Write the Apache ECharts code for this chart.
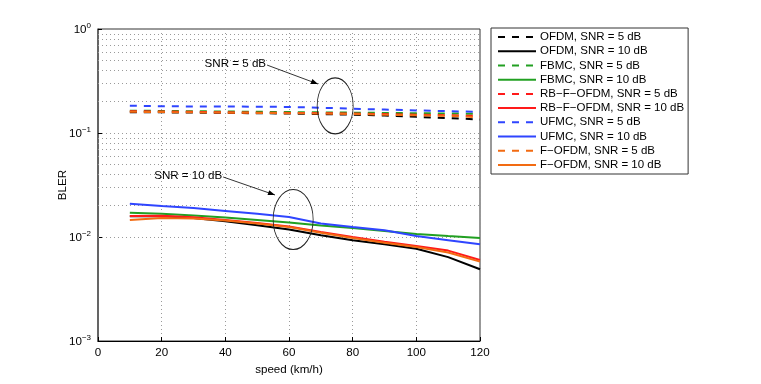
<!DOCTYPE html>
<html>
<head>
<meta charset="utf-8">
<script src="https://cdn.jsdelivr.net/npm/echarts@6/dist/echarts.min.js"></script>
<style>
  html, body { margin: 0; padding: 0; background: #fff; }
  #main { width: 761px; height: 384px; }
</style>
</head>
<body>
<div id="main"></div>
<script>
// speed (km/h)
const speeds = [10, 20, 30, 40, 50, 60, 70, 80, 90, 100, 110, 120];

// SNR = 5 dB (dashed)
const ofdm5   = [0.158, 0.158, 0.157, 0.156, 0.155, 0.154, 0.152, 0.150, 0.147, 0.143, 0.139, 0.135];
const fbmc5   = [0.164, 0.163, 0.162, 0.161, 0.160, 0.159, 0.158, 0.157, 0.156, 0.155, 0.154, 0.153];
const rbf5    = [0.162, 0.161, 0.160, 0.158, 0.157, 0.156, 0.155, 0.154, 0.152, 0.150, 0.148, 0.146];
const ufmc5   = [0.183, 0.181, 0.180, 0.180, 0.179, 0.178, 0.175, 0.171, 0.168, 0.165, 0.162, 0.160];
const fofdm5  = [0.160, 0.159, 0.158, 0.157, 0.156, 0.155, 0.154, 0.152, 0.150, 0.148, 0.146, 0.142];

// SNR = 10 dB (solid)
const ofdm10  = [0.0158, 0.0158, 0.0152, 0.0142, 0.0130, 0.0118, 0.0104, 0.0093, 0.0085, 0.0077, 0.0064, 0.0049];
const fbmc10  = [0.0171, 0.0167, 0.0161, 0.0154, 0.0146, 0.0138, 0.0129, 0.0122, 0.0114, 0.0107, 0.0102, 0.0098];
const rbf10   = [0.0159, 0.0160, 0.0155, 0.0146, 0.0136, 0.0126, 0.0112, 0.0100, 0.0090, 0.0082, 0.0074, 0.0060];
const ufmc10  = [0.0209, 0.0199, 0.0190, 0.0178, 0.0167, 0.0156, 0.0135, 0.0125, 0.0116, 0.0102, 0.0093, 0.0085];
const fofdm10 = [0.0146, 0.0152, 0.0151, 0.0144, 0.0135, 0.0125, 0.0110, 0.0098, 0.0088, 0.0080, 0.0071, 0.0058];

// minor log grid positions
const minorGrid = [0.002, 0.003, 0.004, 0.005, 0.006, 0.007, 0.008, 0.009,
                   0.02, 0.03, 0.04, 0.05, 0.06, 0.07, 0.08, 0.09,
                   0.2, 0.3, 0.4, 0.5, 0.6, 0.7, 0.8, 0.9];

const FONT = 'Liberation Sans, Arial, sans-serif';

const chart = echarts.init(document.getElementById('main'), null, { renderer: 'canvas' });

function pairs(vals) {
  return speeds.map((s, i) => [s, vals[i]]);
}

function mk(name, vals, color, dashed) {
  return {
    name: name,
    type: 'line',
    data: pairs(vals),
    symbol: 'none',
    z: 3,
    lineStyle: { color: color, width: 2, type: dashed ? [7, 7] : 'solid' },
    itemStyle: { color: color },
    animation: false
  };
}

const seriesList = [
  mk('OFDM, SNR = 5 dB', ofdm5, '#000000', true),
  mk('OFDM, SNR = 10 dB', ofdm10, '#000000', false),
  mk('FBMC, SNR = 5 dB', fbmc5, '#22a022', true),
  mk('FBMC, SNR = 10 dB', fbmc10, '#22a022', false),
  mk('RB\u2212F\u2212OFDM, SNR = 5 dB', rbf5, '#ff1a1a', true),
  mk('RB\u2212F\u2212OFDM, SNR = 10 dB', rbf10, '#ff1a1a', false),
  mk('UFMC, SNR = 5 dB', ufmc5, '#2f45ff', true),
  mk('UFMC, SNR = 10 dB', ufmc10, '#2f45ff', false),
  mk('F\u2212OFDM, SNR = 5 dB', fofdm5, '#f26b12', true),
  mk('F\u2212OFDM, SNR = 10 dB', fofdm10, '#f26b12', false)
];

// minor grid lines carried by the first series
seriesList[0].markLine = {
  silent: true,
  symbol: 'none',
  z: 1,
  animation: false,
  label: { show: false },
  lineStyle: { color: '#9a9a9a', width: 1, type: [1, 3] },
  data: minorGrid.map(v => ({ yAxis: v }))
};

const option = {
  animation: false,
  textStyle: { fontFamily: FONT },
  grid: {
    left: 98, right: 281, top: 29, bottom: 43,
    show: true, borderColor: '#333', borderWidth: 1, backgroundColor: 'transparent'
  },
  legend: {
    orient: 'vertical',
    left: 491, top: 28,
    padding: [2, 4, 2, 6],
    itemWidth: 38, itemHeight: 10, itemGap: 0,
    backgroundColor: '#fff',
    borderColor: '#333', borderWidth: 1, borderRadius: 0,
    selectedMode: false,
    itemStyle: { opacity: 0 },
    textStyle: { fontFamily: FONT, fontSize: 11.5, lineHeight: 14.2, color: '#000', padding: [0, 0, 0, -1] },
    data: seriesList.map(s => s.name)
  },
  xAxis: {
    type: 'value',
    min: 0, max: 120, interval: 20,
    name: 'speed (km/h)',
    nameLocation: 'middle', nameGap: 21,
    nameTextStyle: { fontFamily: FONT, fontSize: 11.6, color: '#000' },
    axisLine: { show: true, lineStyle: { color: '#000', width: 1 } },
    axisTick: { show: true, inside: true, length: 4, lineStyle: { color: '#000' } },
    axisLabel: { fontFamily: FONT, fontSize: 11.6, color: '#000', margin: 6 },
    splitLine: { show: true, lineStyle: { color: '#9a9a9a', width: 1, type: [1, 3] } }
  },
  yAxis: {
    type: 'log',
    logBase: 10,
    min: 0.001, max: 1,
    name: 'BLER',
    nameLocation: 'middle', nameGap: 29,
    nameMoveOverlap: false,
    nameRotate: 90,
    nameTextStyle: { fontFamily: FONT, fontSize: 11.6, color: '#000' },
    axisLine: { show: true, lineStyle: { color: '#555', width: 1.5 } },
    axisTick: { show: true, inside: true, length: 4, lineStyle: { color: '#000' } },
    axisLabel: {
      margin: 7,
      formatter: function (v) {
        const e = Math.round(Math.log10(v));
        return '{b|10}{s|' + (e < 0 ? '\u2212' + (-e) : String(e)) + '}';
      },
      rich: {
        b: { fontFamily: FONT, fontSize: 11.6, color: '#000', verticalAlign: 'bottom', lineHeight: 14 },
        s: { fontFamily: FONT, fontSize: 8, color: '#000', verticalAlign: 'top', lineHeight: 14 }
      }
    },
    splitLine: { show: true, lineStyle: { color: '#9a9a9a', width: 1, type: [1, 3] } }
  },
  series: seriesList
};

chart.setOption(option);

// annotations given in data coordinates
const notes = [
  { text: 'SNR = 5 dB', textEnd: [52.8, 0.46], tip: [69.1, 0.296], center: [74.5, 0.182], rx: 18, ry: 28 },
  { text: 'SNR = 10 dB', textEnd: [39.0, 0.0386], tip: [55.6, 0.02535], center: [61.3, 0.01473], rx: 20, ry: 30 }
];

const elements = [];
notes.forEach(n => {
  const t = chart.convertToPixel({ gridIndex: 0 }, n.textEnd);
  const p = chart.convertToPixel({ gridIndex: 0 }, n.tip);
  const c = chart.convertToPixel({ gridIndex: 0 }, n.center);
  elements.push({
    type: 'text', z: 20, silent: true,
    x: t[0], y: t[1],
    style: { text: n.text, fontFamily: FONT, fontSize: 11.6, fill: '#000', align: 'right', verticalAlign: 'middle' }
  });
  elements.push({
    type: 'line', z: 20, silent: true,
    shape: { x1: t[0] + 1, y1: t[1] + 1, x2: p[0], y2: p[1] },
    style: { stroke: '#000', lineWidth: 0.8 }
  });
  const ang = Math.atan2(p[1] - t[1], p[0] - t[0]);
  const L = 7, W = 2.6;
  const bx = p[0] - L * Math.cos(ang), by = p[1] - L * Math.sin(ang);
  elements.push({
    type: 'polygon', z: 20, silent: true,
    shape: { points: [[p[0], p[1]],
      [bx + W * Math.sin(ang), by - W * Math.cos(ang)],
      [bx - W * Math.sin(ang), by + W * Math.cos(ang)]] },
    style: { fill: '#000' }
  });
  elements.push({
    type: 'circle', z: 20, silent: true,
    x: c[0], y: c[1], scaleX: n.rx / n.ry, scaleY: 1,
    shape: { cx: 0, cy: 0, r: n.ry },
    style: { fill: 'none', stroke: '#222', lineWidth: 1 / (n.rx / n.ry) * 0.8 }
  });
});

chart.setOption({ graphic: { elements: elements } });
</script>
</body>
</html>
